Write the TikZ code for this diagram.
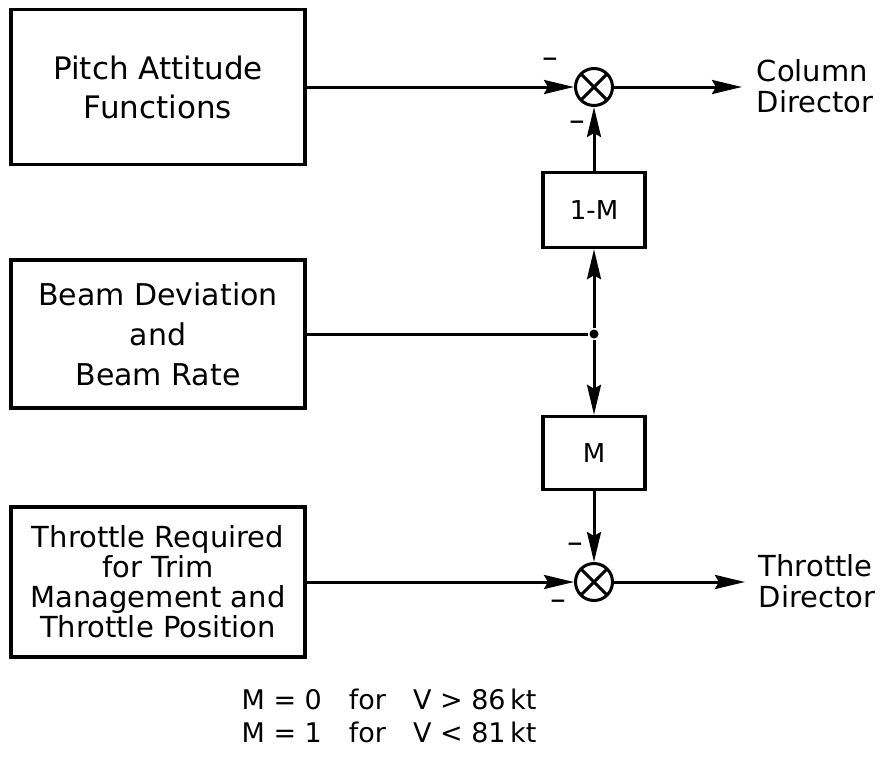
\documentclass[tikz,border=0pt]{standalone}
\usepackage{fontspec}
\setmainfont{DejaVu Sans}
\usetikzlibrary{positioning,arrows.meta}

\begin{document}
\begin{tikzpicture}[x=1pt, y=-1pt, line width=3pt]
    \tikzset{
      block/.style = {rectangle, draw=black, line width=3.5pt, minimum width=294pt, text centered, align=center, inner sep=2pt},
      gain/.style = {rectangle, draw=black, line width=3.5pt, minimum width=102pt, minimum height=75pt, font=\fontsize{26}{30}\selectfont},
      sumjunc/.style = {circle, draw=black, line width=3pt, minimum size=37pt, inner sep=0pt,
        path picture={\draw[line width=3pt] (path picture bounding box.north west) -- (path picture bounding box.south east)
          (path picture bounding box.north east) -- (path picture bounding box.south west);}},
      dot/.style = {circle, fill=black, minimum size=9pt, inner sep=0pt},
      outlabel/.style = {anchor=west, align=left, font=\fontsize{29}{31}\selectfont},
      minus/.style = {inner sep=0pt, font=\fontsize{20}{20}\selectfont\bfseries},
      arrow/.style = {line width=3pt, -{Stealth[length=30pt, width=14pt, inset=4pt]}}
    }
    \useasboundingbox (0,0) rectangle (894,766);

    \node (pitch) [block, minimum height=155pt, font=\fontsize{31}{39}\selectfont] at (158,87) {Pitch Attitude\\Functions};
    \node (beam) [block, minimum height=148pt, font=\fontsize{30}{40}\selectfont] at (158,334) {Beam Deviation\\and\\Beam Rate};
    \node (thr) [block, minimum height=150pt, font=\fontsize{29}{30}\selectfont] at (158,582) {Throttle Required\\for Trim\\Management and\\Throttle Position};

    \node (sumcol) [sumjunc] at (594,87) {};
    \node (junc) [dot] at (594,334) {};
    \node (sumthr) [sumjunc] at (594,582) {};
    \node (im) [gain] at (594,210) {1-M};
    \node (m) [gain, minimum height=73pt] at (594,453) {M};

    \coordinate (colout) at (742,87);
    \coordinate (throut) at (745,582);
    \node (coldir) [outlabel] at (752,86) {Column\\Director};
    \node (thrdir) [outlabel] at (754,581) {Throttle\\Director};

    % signs at the junctions
    \node (mcolleft) [minus] at (550,62) {−};
    \node (mcolbot) [minus] at (577,125) {−};
    \node (mthrtop) [minus] at (575,547) {−};
    \node (mthrleft) [minus] at (558,604) {−};

    \node (mswitch) [font=\fontsize{27}{33}\selectfont] at (389,719)
      {\begin{tabular}{@{}l@{\quad}l@{\quad}l@{}}M = 0 & for & V > 86\,kt\\M = 1 & for & V < 81\,kt\end{tabular}};

    \draw [arrow] (pitch.east) -- (sumcol.west);
    \draw [arrow] (sumcol.east) -- (colout);
    \draw [arrow] (im.north) -- (sumcol.south);
    \draw (beam.east) -- (junc);
    \draw [arrow] (junc) -- (im.south);
    \draw [arrow] (junc) -- (m.north);
    \draw [arrow] (m.south) -- (sumthr.north);
    \draw [arrow] (thr.east) -- (sumthr.west);
    \draw [arrow] (sumthr.east) -- (throut);
\end{tikzpicture}
\end{document}
